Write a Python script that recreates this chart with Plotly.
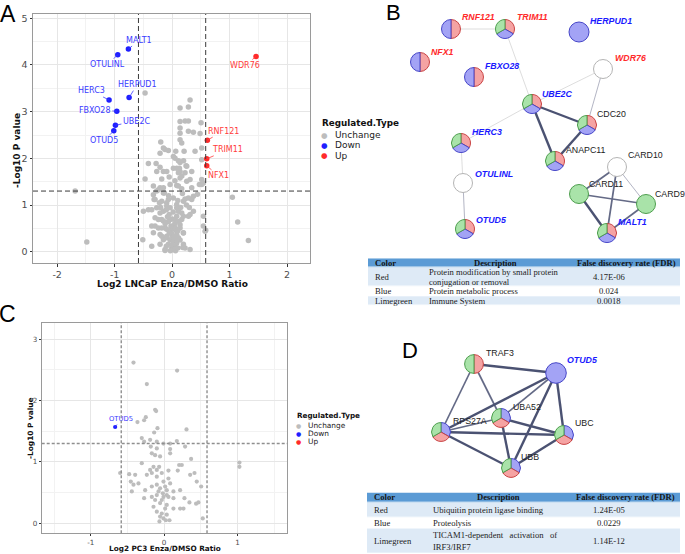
import plotly.graph_objects as go

W, H = 685, 554

# ---------------- Panel A : LNCaP volcano ----------------
a_unchanged = [
    (-0.470, 3.40), (0.139, 3.08), (0.284, 3.10), (0.313, 3.25), (0.139, 2.79), (0.226, 2.80),
    (0.284, 2.80), (0.504, 2.76), (0.139, 2.65), (0.139, 2.54), (0.284, 2.58), (0.371, 2.56),
    (0.487, 2.53), (0.139, 2.40), (-0.197, 2.35), (0.168, 2.33), (-0.151, 2.22), (-0.122, 2.19),
    (-0.064, 2.17), (0.064, 2.15), (0.209, 2.15), (0.400, 2.15), (-0.209, 2.11), (0.516, 2.22),
    (0.516, 1.97), (-0.412, 1.89), (-0.278, 1.89), (0.139, 1.91), (0.243, 1.84), (-0.209, 1.81),
    (-0.151, 1.72), (0.081, 1.79), (0.139, 1.72), (0.226, 1.69), (0.342, 1.72), (-0.267, 1.72),
    (-0.470, 1.56), (-0.180, 1.56), (0.139, 1.58), (0.313, 1.55), (0.516, 1.55), (-0.325, 1.41),
    (-0.209, 1.37), (0.110, 1.41), (0.516, 1.44), (0.023, 2.04), (0.255, 1.83), (0.023, 1.79),
    (0.128, 1.79), (-0.093, 1.72), (0.110, 1.69), (0.255, 1.51), (0.475, 1.44), (0.545, 1.47),
    (-0.035, 1.44), (0.081, 1.42), (0.168, 1.35), (0.342, 1.37), (-0.151, 1.37), (0.052, 2.00),
    (0.110, 1.95), (0.170, 1.62), (0.050, 1.52), (-0.050, 1.60), (0.200, 1.95),
    (-1.687, 1.30), (1.049, 1.17), (1.142, 0.64), (1.328, 0.24), (-1.484, 0.21),
    (-0.325, 1.22), (-0.238, 1.33), (-0.151, 1.26), (-0.296, 1.12), (-0.180, 1.08), (-0.093, 1.05),
    (-0.354, 0.90), (-0.267, 0.94), (-0.151, 0.87), (-0.035, 0.94), (0.081, 1.01), (0.197, 1.08),
    (0.284, 1.15), (0.371, 1.19), (0.110, 0.87), (0.197, 0.76), (0.313, 0.80), (-0.296, 0.73),
    (-0.180, 0.69), (-0.064, 0.65), (0.052, 0.69), (0.139, 0.58), (-0.354, 0.55), (-0.238, 0.51),
    (-0.122, 0.51), (-0.006, 0.48), (0.081, 0.44), (0.197, 0.40), (-0.180, 0.33), (-0.093, 0.30),
    (-0.035, 0.26), (0.023, 0.23), (0.110, 0.30), (-0.064, 0.16), (-0.006, 0.08), (0.052, 0.12),
    (-0.122, 0.05), (0.197, 0.16), (0.226, 0.08), (-0.499, 0.87), (-0.510, 0.26), (-0.354, 0.12),
    (0.545, 0.55), (0.574, 0.44), (-0.267, 1.30), (-0.133, 1.26), (0.441, 1.23), (-0.313, 1.12),
    (-0.064, 1.12), (0.023, 1.15), (0.226, 1.13), (0.342, 1.12), (-0.412, 0.90), (-0.209, 0.83),
    (-0.093, 0.98), (0.081, 0.94), (0.371, 0.87), (0.168, 0.83), (0.284, 0.76), (0.545, 0.76),
    (-0.238, 0.69), (-0.151, 0.66), (-0.035, 0.69), (0.081, 0.76), (0.168, 0.69), (0.586, 0.46),
    (-0.296, 0.55), (-0.180, 0.51), (-0.093, 0.48), (0.023, 0.55), (0.139, 0.51), (-0.325, 0.41),
    (-0.209, 0.37), (-0.093, 0.33), (-0.012, 0.41), (0.081, 0.37), (0.197, 0.41), (-0.122, 0.03),
    (0.012, 0.05), (0.186, 0.09), (0.313, 0.05), (0.081, 0.19), (-0.151, 0.26), (0.139, 0.25),
    (-0.209, 0.16), (0.023, 0.12), (-0.100, 0.90), (-0.050, 0.80), (0.000, 0.70), (0.050, 0.60),
    (-0.020, 0.55), (0.000, 0.35), (0.030, 0.30), (-0.050, 0.40), (0.060, 0.50), (0.100, 0.45),
    (-0.120, 0.60), (0.120, 0.65), (0.000, 0.15), (0.040, 0.05), (-0.030, 0.02), (0.080, 0.28),
    (-0.080, 0.75), (0.020, 0.85), (0.150, 0.95), (-0.200, 0.95), (-0.220, 1.05), (0.250, 1.00),
    (0.300, 0.95), (0.100, 1.10), (-0.060, 1.20), (0.180, 1.25), (0.060, 0.02), (0.100, 0.08),
    (-0.100, 0.12),
]
a_down_genes = ["MALT1", "OTULINL", "HERPUD1", "HERC3", "FBXO28", "UBE2C", "OTUD5"]
a_down_x = [-0.760, -0.945, -0.748, -1.096, -0.962, -0.986, -1.014]
a_down_y = [4.34, 4.22, 3.30, 3.25, 3.01, 2.71, 2.59]
a_up_genes = ["WDR76", "RNF121", "TRIM11", "NFX1"]
a_up_x = [1.461, 0.614, 0.603, 0.603]
a_up_y = [4.18, 2.39, 1.99, 1.84]

# ---------------- Panel C : PC3 volcano ----------------
c_unchanged = [
    (-0.418, 2.62), (0.177, 2.49), (-0.236, 2.27), (-0.123, 1.85), (-0.109, 1.83), (-0.250, 1.73),
    (-0.273, 1.68), (-0.364, 1.65), (-0.091, 1.55), (0.305, 1.53), (-0.136, 1.48), (-0.305, 1.39),
    (-0.273, 1.33), (-0.191, 1.36), (-0.100, 1.33), (-0.009, 1.30), (0.082, 1.30), (0.173, 1.34),
    (0.286, 1.25), (-0.182, 1.25), (-0.100, 1.22), (0.082, 1.21), (-0.168, 1.14), (-0.123, 1.11),
    (-0.055, 1.09), (0.082, 1.14), (0.368, 1.05), (1.027, 0.99), (1.027, 0.92), (-0.305, 0.98),
    (0.205, 0.95), (0.241, 0.95), (0.059, 0.86), (0.186, 0.86), (-0.600, 0.82), (-0.477, 0.80),
    (-0.395, 0.79), (-0.236, 0.79), (-0.168, 0.82), (-0.100, 0.76), (-0.032, 0.82), (0.355, 0.79),
    (0.414, 0.82), (0.445, 0.68), (0.505, 0.60), (-0.455, 0.68), (-0.418, 0.63), (-0.350, 0.65),
    (-0.441, 0.52), (-0.259, 0.54), (-0.168, 0.60), (-0.100, 0.63), (-0.055, 0.57), (0.014, 0.60),
    (0.082, 0.65), (0.127, 0.52), (0.218, 0.54), (-0.273, 0.41), (-0.168, 0.43), (-0.100, 0.46),
    (-0.009, 0.43), (0.059, 0.43), (0.127, 0.41), (0.277, 0.41), (0.345, 0.34), (0.436, 0.32),
    (0.468, 0.34), (-0.145, 0.27), (-0.055, 0.33), (0.036, 0.30), (0.127, 0.24), (0.218, 0.24),
    (0.264, 0.24), (-0.100, 0.19), (-0.032, 0.16), (0.036, 0.14), (-0.009, 0.08), (0.023, 0.05),
    (0.073, 0.05), (-0.055, 0.11), (-0.064, 0.03), (0.527, 0.08), (-0.123, 0.38), (-0.032, 0.38),
    (0.014, 0.24), (-0.077, 0.52), (-0.018, 0.49), (0.036, 0.46), (0.036, 0.54), (-0.009, 0.68),
    (0.059, 0.73), (-0.068, 0.92), (-0.100, 0.87), (-0.145, 0.92), (-0.191, 0.87),
]
c_down_genes = ["OTUD5"]
c_down_x = [-0.668]
c_down_y = [1.57]

fc_cut = 0.585   # log2(1.5)
p_cut = 1.3      # -log10(0.05)

# ---------------- Panel B : STRING network ----------------
b_names = ["RNF121", "TRIM11", "HERPUD1", "NFX1", "FBXO28", "WDR76", "UBE2C", "CDC20",
           "HERC3", "ANAPC11", "CARD10", "OTULINL", "CARD11", "CARD9", "OTUD5", "MALT1"]
b_x = [451, 505, 579, 420, 474, 603, 532, 587, 461, 555, 617, 463, 579, 646, 465, 607]
b_y = [29, 29, 32, 62, 77, 69, 104, 125, 143, 161, 167, 183, 194, 204, 229, 233]
b_slices = [["red", "blue"], ["red", "blue", "green"], ["blue"], ["red", "blue"], ["red", "blue"],
            ["none"], ["red", "blue", "green"], ["red", "blue", "green"], ["red", "blue", "green"],
            ["red", "blue", "green"], ["none"], ["none"], ["green"], ["green"],
            ["red", "blue", "green"], ["red", "blue", "green"]]
b_label_x = [460, 515, 588, 429, 483, 613, 540, 595, 470, 564, 626, 473, 587, 653, 474, 616]
b_label_y = [17, 17, 21, 52, 66, 58, 94, 114, 132, 150, 155, 174, 184, 194, 220, 222]
b_label_kind = ["up", "up", "down", "up", "down", "up", "down", "plain", "down", "plain",
                "plain", "down", "plain", "plain", "down", "down"]
b_edges = [("RNF121", "TRIM11", "weak"), ("TRIM11", "UBE2C", "weak"), ("WDR76", "UBE2C", "weak"),
           ("WDR76", "CDC20", "light"), ("UBE2C", "HERC3", "weak"), ("UBE2C", "CDC20", "strong"),
           ("UBE2C", "ANAPC11", "strong"), ("CDC20", "ANAPC11", "strong"), ("HERC3", "OTULINL", "weak"),
           ("OTULINL", "OTUD5", "light"), ("CARD10", "CARD11", "medium"), ("CARD10", "MALT1", "medium"),
           ("CARD10", "CARD9", "light"), ("CARD11", "CARD9", "medium"), ("CARD11", "MALT1", "strong"),
           ("CARD9", "MALT1", "medium")]

b_table_header = ["Color", "Description", "False discovery rate (FDR)"]
b_table_color = ["Red", "Blue", "Limegreen"]
b_table_desc = ["Protein modification by small protein<br>conjugation or removal",
                "Protein metabolic process", "Immune System"]
b_table_fdr = ["4.17E-06", "0.024", "0.0018"]

# ---------------- Panel D : STRING network ----------------
d_names = ["TRAF3", "OTUD5", "UBA52", "RPS27A", "UBC", "UBB"]
d_x = [474, 556, 501, 441, 564, 511]
d_y = [364, 373, 418, 432, 435, 468]
d_slices = [["red", "green"], ["blue"], ["blue", "red", "green"], ["blue", "red", "green"],
            ["blue", "red", "green"], ["blue", "red", "green"]]
d_label_x = [484, 565, 511, 451, 573, 519]
d_label_y = [353, 360, 407, 421, 423, 457]
d_label_kind = ["plain", "down", "plain", "plain", "plain", "plain"]
d_edges = [("TRAF3", "OTUD5", "strong"), ("TRAF3", "RPS27A", "medium"), ("TRAF3", "UBA52", "medium"),
           ("OTUD5", "RPS27A", "strong"), ("OTUD5", "UBA52", "medium"), ("OTUD5", "UBC", "strong"),
           ("OTUD5", "UBB", "strong"), ("RPS27A", "UBA52", "medium"), ("RPS27A", "UBC", "strong"),
           ("RPS27A", "UBB", "strong"), ("UBA52", "UBC", "strong"), ("UBA52", "UBB", "strong"),
           ("UBC", "UBB", "strong")]

d_table_header = ["Color", "Description", "False discovery rate (FDR)"]
d_table_color = ["Red", "Blue", "Limegreen"]
d_table_desc = ["Ubiquitin protein ligase binding", "Proteolysis",
                "TICAM1-dependent&nbsp;&nbsp;&nbsp;activation&nbsp;&nbsp;&nbsp;of<br>IRF3/IRF7"]
d_table_fdr = ["1.24E-05", "0.0229", "1.14E-12"]

# ---------------- styles ----------------
GREY, BLUE, RED = "#bdbdbd", "#1f1fff", "#ff2a2a"
BLUE_TXT, RED_TXT = "#3b3bff", "#ff3b3b"
SANS = "DejaVu Sans"
ARIAL = "Liberation Sans"
SERIF = "Liberation Serif"
slice_fill = {"red": "#f5a3a3", "blue": "#a3a3f5", "green": "#a9e3a9", "none": "#ffffff"}
slice_line = {"red": "#c94444", "blue": "#4646c8", "green": "#4e9e4e", "none": "#b4b4b4"}
edge_style = {"weak": ("#d4d4d4", 0.8), "light": ("#b3b5c4", 1.0),
              "medium": ("#646a86", 1.7), "strong": ("#4b5272", 2.4)}
label_style = {"up": (RED, "<b><i>%s</i></b>"), "down": ("#1a1aff", "<b><i>%s</i></b>"),
               "plain": ("#222222", "%s")}
HEAD_BLUE, LIGHT_BLUE = "#5b9bd5", "#deeaf6"

fig = go.Figure()


def xs(pairs):
    return [p[0] for p in pairs]


def ys(pairs):
    return [p[1] for p in pairs]


# volcano A
fig.add_trace(go.Scatter(x=xs(a_unchanged), y=ys(a_unchanged), mode="markers", xaxis="x", yaxis="y",
                         marker=dict(color=GREY, size=5.5), hoverinfo="skip", showlegend=False))
fig.add_trace(go.Scatter(x=a_down_x, y=a_down_y, mode="markers", xaxis="x", yaxis="y",
                         marker=dict(color=BLUE, size=5.5), hoverinfo="skip", showlegend=False))
fig.add_trace(go.Scatter(x=a_up_x, y=a_up_y, mode="markers", xaxis="x", yaxis="y",
                         marker=dict(color=RED, size=5.5), hoverinfo="skip", showlegend=False))
# volcano C
fig.add_trace(go.Scatter(x=xs(c_unchanged), y=ys(c_unchanged), mode="markers", xaxis="x2", yaxis="y2",
                         marker=dict(color=GREY, size=4.2), hoverinfo="skip", showlegend=False))
fig.add_trace(go.Scatter(x=c_down_x, y=c_down_y, mode="markers", xaxis="x2", yaxis="y2",
                         marker=dict(color=BLUE, size=4.2), hoverinfo="skip", showlegend=False))


# networks: edges
def add_edges(names, px, py, edges):
    pos = {n: (px[i], py[i]) for i, n in enumerate(names)}
    for a, b, kind in edges:
        col, wd = edge_style[kind]
        fig.add_trace(go.Scatter(x=[pos[a][0], pos[b][0]], y=[pos[a][1], pos[b][1]], mode="lines",
                                 xaxis="x3", yaxis="y3", line=dict(color=col, width=wd),
                                 hoverinfo="skip", showlegend=False))


add_edges(b_names, b_x, b_y, b_edges)
add_edges(d_names, d_x, d_y, d_edges)

NET_X0 = 380  # left of network axis in layout units (== px)


def add_nodes(names, px, py, slices, r):
    for i, n in enumerate(names):
        cx, cy = px[i], py[i]
        rr = r[i]
        sl = slices[i]
        fig.add_trace(go.Pie(
            values=[1] * len(sl), labels=[n + "_" + s for s in sl], sort=False, direction="clockwise",
            rotation=0, textinfo="none", hoverinfo="skip", showlegend=False,
            marker=dict(colors=[slice_fill[s] for s in sl],
                        line=dict(color=[slice_line[s] for s in sl], width=1)),
            domain=dict(x=[(cx - rr) / W, (cx + rr) / W], y=[1 - (cy + rr) / H, 1 - (cy - rr) / H])))


add_nodes(b_names, b_x, b_y, b_slices, [10 if n == "HERPUD1" else 9.5 for n in b_names])
add_nodes(d_names, d_x, d_y, d_slices, [10.3 if n == "OTUD5" else 9.4 for n in d_names])

ann = []


# tables: cell fills drawn as a heatmap with variable row heights on their own axes
def add_table(xa, ya, width, row_edges, header, col1, col2, col3, fills, head_pos, col_pos, line_gap):
    z = [[2]] + [[1 if f == LIGHT_BLUE else 0] for f in fills]
    fig.add_trace(go.Heatmap(x=[0, width], y=row_edges, z=z, xaxis=xa, yaxis=ya, zmin=0, zmax=2,
                             colorscale=[[0, "#ffffff"], [0.5, LIGHT_BLUE], [1, HEAD_BLUE]],
                             showscale=False, hoverinfo="skip", xgap=0, ygap=0.6))
    hy = (row_edges[0] + row_edges[1]) / 2
    for t, (px, anc) in zip(header, head_pos):
        ann.append(dict(x=px, y=hy, xref=xa, yref=ya, text="<b>%s</b>" % t, showarrow=False,
                        xanchor=anc, yanchor="middle", font=dict(family=SERIF, size=8.6, color="#141414")))
    for i in range(len(col1)):
        cy = (row_edges[i + 1] + row_edges[i + 2]) / 2
        for t, (px, anc) in zip((col1[i], col2[i], col3[i]), col_pos):
            lines = t.split("<br>")
            for j, ln in enumerate(lines):
                ly = cy + (j - (len(lines) - 1) / 2) * line_gap
                ann.append(dict(x=px, y=ly, xref=xa, yref=ya, text=ln, showarrow=False,
                                xanchor=anc, yanchor="middle",
                                font=dict(family=SERIF, size=8.6, color="#222222")))


add_table("x4", "y4", 312, [0, 9, 28.4, 37.7, 47], b_table_header, b_table_color, b_table_desc,
          b_table_fdr, [LIGHT_BLUE, "#ffffff", LIGHT_BLUE],
          [(4.5, "left"), (127, "center"), (258, "center")], [(4.5, "left"), (59, "left"), (241, "center")], 10)
add_table("x5", "y5", 313, [0, 9.5, 25, 36, 60.5], d_table_header, d_table_color, d_table_desc,
          d_table_fdr, [LIGHT_BLUE, "#ffffff", LIGHT_BLUE],
          [(4.7, "left"), (131, "center"), (258, "center")], [(4.7, "left"), (64, "left"), (242, "center")], 11.6)

# volcano labels (offsets in px from the point to the label centre)
a_down_off = [(11, -9), (-10, 10), (8, -13), (-18, -9), (-22, -1), (21, -4), (-10, 10)]
a_up_off = [(-11, 9), (16, -9), (21, -9), (12, 10)]
for g, x, y, (dx, dy) in zip(a_down_genes, a_down_x, a_down_y, a_down_off):
    ann.append(dict(x=x, y=y, xref="x", yref="y", text=g, ax=dx, ay=dy, showarrow=True, arrowhead=0,
                    arrowwidth=0.8, arrowcolor=BLUE_TXT, font=dict(family=SANS, size=8, color=BLUE_TXT)))
for g, x, y, (dx, dy) in zip(a_up_genes, a_up_x, a_up_y, a_up_off):
    ann.append(dict(x=x, y=y, xref="x", yref="y", text=g, ax=dx, ay=dy, showarrow=True, arrowhead=0,
                    arrowwidth=0.8, arrowcolor=RED_TXT, font=dict(family=SANS, size=8, color=RED_TXT)))
for g, x, y in zip(c_down_genes, c_down_x, c_down_y):
    ann.append(dict(x=x, y=y, xref="x2", yref="y2", text=g, ax=6, ay=-8, showarrow=True, arrowhead=0,
                    arrowwidth=0.7, arrowcolor=BLUE_TXT, font=dict(family=SANS, size=6.8, color=BLUE_TXT)))

# network labels
for names, lx, ly, kinds in ((b_names, b_label_x, b_label_y, b_label_kind),
                             (d_names, d_label_x, d_label_y, d_label_kind)):
    for n, x, y, k in zip(names, lx, ly, kinds):
        col, fmt = label_style[k]
        ann.append(dict(x=x, y=y, xref="x3", yref="y3", text=fmt % n, showarrow=False,
                        xanchor="left", yanchor="middle", font=dict(family=ARIAL, size=8.8, color=col)))


def paper(px, py, text, size, family=SANS, color="#111111", xanchor="left", angle=0):
    ann.append(dict(x=px / W, y=1 - py / H, xref="paper", yref="paper", text=text, showarrow=False,
                    xanchor=xanchor, yanchor="middle", textangle=angle,
                    font=dict(family=family, size=size, color=color)))


# axis titles
paper(172, 284, "<b>Log2 LNCaP Enza/DMSO Ratio</b>", 9, xanchor="center")
paper(17, 151, "<b>-Log10 P value</b>", 9, xanchor="center", angle=-90)
paper(164.5, 548.5, "<b>Log2 PC3 Enza/DMSO Ratio</b>", 7.3, xanchor="center")
paper(30, 428, "<b>-Log10 P value</b>", 7.4, xanchor="center", angle=-90)

# legends
legend_items = [("Unchange", GREY), ("Down", BLUE), ("Up", RED)]
paper(320, 122.7, "<b>Regulated.Type</b>", 8.8)
for i, (t, c) in enumerate(legend_items):
    yy = 135 + i * 10.4
    paper(324, yy, "●", 7.5, color=c, xanchor="center")
    paper(333, yy, t, 9, color="#222222")
paper(295, 415, "<b>Regulated.Type</b>", 7.2)
for i, (t, c) in enumerate(legend_items):
    yy = 425.3 + i * 7.9
    paper(298.5, yy, "●", 6, color=c, xanchor="center")
    paper(306, yy, t, 7.4, color="#222222")

# panel letters
paper(8, 14, "A", 23, family=ARIAL, color="#000000", xanchor="center")
paper(393.5, 12.5, "B", 22, family=ARIAL, color="#000000", xanchor="center")
paper(8, 314, "C", 23, family=ARIAL, color="#000000", xanchor="center")
paper(410, 350, "D", 22, family=ARIAL, color="#000000", xanchor="center")

# threshold lines
shapes = []
for xr, yr, col, dash, wd in (("x", "y", "#3a3a3a", "5px,3px", 1.0), ("x2", "y2", "#8f8f8f", "3px,2px", 1.4)):
    for v in (-fc_cut, fc_cut):
        shapes.append(dict(type="line", xref=xr, yref=yr + " domain", x0=v, x1=v, y0=0, y1=1,
                           line=dict(color=col, dash=dash, width=wd), layer="above"))
    shapes.append(dict(type="line", xref=xr + " domain", yref=yr, x0=0, x1=1, y0=p_cut, y1=p_cut,
                       line=dict(color=col, dash=dash, width=wd), layer="above"))


def vaxis(domain, rng, tv, minor_tv, tfs, anchor, tl):
    return dict(domain=domain, range=rng, tickvals=tv, ticktext=[str(v) for v in tv],
                showgrid=True, gridcolor="#e6e6e6", gridwidth=0.8,
                minor=dict(tickvals=minor_tv, showgrid=True, gridcolor="#f2f2f2", gridwidth=0.5),
                zeroline=False, showline=True, mirror=True, linecolor="#9a9a9a", linewidth=1,
                ticks="outside", ticklen=tl, tickwidth=0.8, tickcolor="#333333",
                tickfont=dict(family=SANS, size=tfs, color="#4d4d4d"), anchor=anchor)


hidden = dict(visible=False, showgrid=False, zeroline=False)
fig.update_layout(
    width=W, height=H, margin=dict(l=0, r=0, t=0, b=0),
    paper_bgcolor="white", plot_bgcolor="white", showlegend=False,
    xaxis=vaxis([33 / W, 310 / W], [-2.42, 2.40], [-2, -1, 0, 1, 2], [-1.5, -0.5, 0.5, 1.5], 9.5, "y", 2.5),
    yaxis=vaxis([1 - 263 / H, 1 - 14 / H], [-0.24, 5.09], [0, 1, 2, 3, 4, 5],
                [0.5, 1.5, 2.5, 3.5, 4.5], 9.5, "x", 2.5),
    xaxis2=vaxis([41.7 / W, 287.3 / W], [-1.67, 1.68], [-1, 0, 1], [-1.5, -0.5, 0.5, 1.5], 7.2, "y2", 2),
    yaxis2=vaxis([1 - 533.3 / H, 1 - 322.7 / H], [-0.163, 3.27], [0, 1, 2, 3], [0.5, 1.5, 2.5], 7.2, "x2", 2),
    xaxis3=dict(domain=[NET_X0 / W, 1], range=[NET_X0, W], anchor="y3", **hidden),
    yaxis3=dict(domain=[0, 1], range=[H, 0], anchor="x3", **hidden),
    xaxis4=dict(domain=[368 / W, 680 / W], range=[0, 312], anchor="y4", **hidden),
    yaxis4=dict(domain=[1 - 305.3 / H, 1 - 258.3 / H], range=[47, 0], anchor="x4", **hidden),
    xaxis5=dict(domain=[367 / W, 680 / W], range=[0, 313], anchor="y5", **hidden),
    yaxis5=dict(domain=[1 - 553 / H, 1 - 492.5 / H], range=[60.5, 0], anchor="x5", **hidden),
    annotations=ann, shapes=shapes,
)

fig.write_html("out.html", config={"displayModeBar": False},
               post_script="document.body.style.margin='0px';document.body.style.overflow='hidden';")
